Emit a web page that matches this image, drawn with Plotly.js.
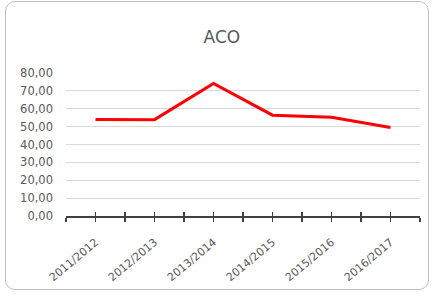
<!DOCTYPE html>
<html>
<head>
<meta charset="utf-8">
<script src="https://cdn.plot.ly/plotly-3.0.1.min.js"></script>
<style>
html,body{margin:0;padding:0;background:#fff;}
#frame{position:absolute;left:5px;top:1px;width:424px;height:289px;border:1.5px solid #bfbfbf;border-radius:10px;box-sizing:border-box;}
#chart{position:absolute;left:0;top:0;width:435px;height:298px;}
</style>
</head>
<body>
<div id="frame"></div>
<div id="chart"></div>
<script>
const categories = ["2011/2012","2012/2013","2013/2014","2014/2015","2015/2016","2016/2017"];
const values = [54.0, 53.9, 74.1, 56.4, 55.3, 49.5];
const yTicks = [0,10,20,30,40,50,60,70,80];

const idx = categories.map((c, i) => i);
const FONT = 'DejaVu Sans, Verdana, sans-serif';
const TICKC = '#404040';

const trace = {
  x: idx, y: values, type: 'scatter', mode: 'lines',
  line: {color: '#ff0000', width: 3}, hoverinfo: 'none'
};
// invisible copy so the overlay axis (inner half of the crossing ticks) is drawn
const ghost = {
  x: idx, y: values, type: 'scatter', mode: 'lines', xaxis: 'x2',
  opacity: 0, line: {width: 0}, hoverinfo: 'none'
};
const layout = {
  width: 435, height: 298,
  paper_bgcolor: 'rgba(0,0,0,0)', plot_bgcolor: 'rgba(0,0,0,0)',
  margin: {l: 66, r: 15, t: 73, b: 82},
  separators: ',.',
  showlegend: false,
  title: {text: 'ACO', x: 0.51, xanchor: 'center', y: 0.875, yanchor: 'middle',
          font: {family: FONT, size: 17, color: '#595959'}},
  xaxis: {
    range: [-0.5, 5.5], tickmode: 'array', tickvals: idx, ticktext: categories,
    tickangle: -40, ticks: 'outside', ticklen: 4, tickwidth: 1.5, tickcolor: TICKC,
    ticklabelstandoff: 10,
    minor: {tick0: -0.5, dtick: 1, ticks: 'outside', ticklen: 4, tickwidth: 1.5, tickcolor: TICKC, showgrid: false},
    showline: true, linecolor: TICKC, linewidth: 1.5, showgrid: false, zeroline: false,
    tickfont: {family: FONT, size: 11, color: '#595959'}
  },
  xaxis2: {
    overlaying: 'x', anchor: 'y', range: [-0.5, 5.5], tick0: -0.5, dtick: 0.5,
    ticks: 'inside', ticklen: 4, tickwidth: 1.5, tickcolor: TICKC,
    showticklabels: false, showgrid: false, zeroline: false, showline: false
  },
  yaxis: {
    range: [0, 80], tickmode: 'array', tickvals: yTicks, tickformat: '.2f',
    showgrid: true, gridcolor: '#d9d9d9', gridwidth: 1, zeroline: false,
    showline: false, ticks: '', ticklabelstandoff: 12,
    tickfont: {family: FONT, size: 11.5, color: '#595959'}
  }
};
Plotly.newPlot('chart', [trace, ghost], layout, {staticPlot: true, displayModeBar: false});
</script>
</body>
</html>
